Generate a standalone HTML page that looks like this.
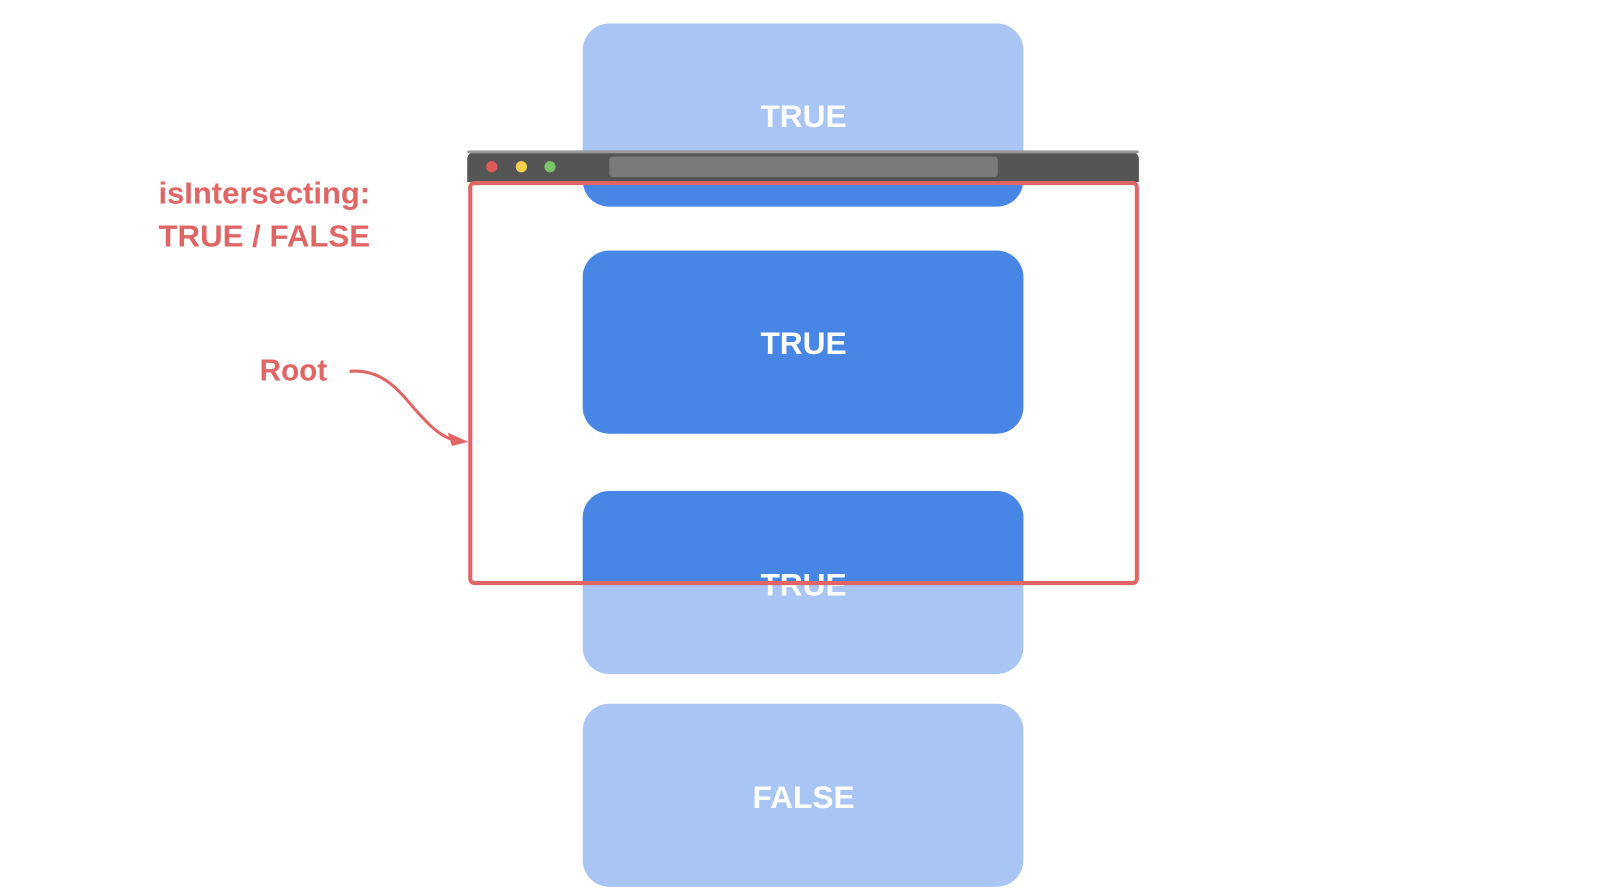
<!DOCTYPE html>
<html><head><meta charset="utf-8"><style>
html,body{margin:0;padding:0;background:#fff;}
svg{display:block;}
text{font-family:"Liberation Sans",sans-serif;font-weight:bold;}
</style></head><body>
<svg width="1600" height="895" viewBox="0 0 1565 875" preserveAspectRatio="none" xmlns="http://www.w3.org/2000/svg">
<defs>
<clipPath id="vp"><rect x="459" y="178" width="653" height="392"/></clipPath>
</defs>
<g fill="#a9c5f3">
<rect x="570" y="23" width="431" height="179" rx="26"/>
<rect x="570" y="245" width="431" height="179" rx="26"/>
<rect x="570" y="480" width="431" height="179" rx="26"/>
<rect x="570" y="688" width="431" height="179" rx="26"/>
</g>
<g fill="#4886e6" clip-path="url(#vp)">
<rect x="570" y="23" width="431" height="179" rx="26"/>
<rect x="570" y="245" width="431" height="179" rx="26"/>
<rect x="570" y="480" width="431" height="179" rx="26"/>
</g>
<g fill="#fff" font-size="31" text-anchor="middle">
<text x="786" y="124">TRUE</text>
<text x="786" y="346">TRUE</text>
<text x="786" y="582">TRUE</text>
<text x="786" y="790">FALSE</text>
</g>
<path d="M457 157 a8 8 0 0 1 8 -9 h641 a8 8 0 0 1 8 9 v21 h-657z" fill="#555"/>
<rect x="457" y="147" width="657" height="3" fill="#999" rx="2"/>
<circle cx="481" cy="163" r="5.5" fill="#e05a5a"/>
<circle cx="510" cy="163" r="5.5" fill="#f5d04a"/>
<circle cx="538" cy="163" r="5.5" fill="#7ac46a"/>
<rect x="596" y="153" width="380" height="20" rx="3" fill="#7a7a7a"/>
<rect x="460" y="179" width="652" height="391" rx="4" fill="none" stroke="#e06666" stroke-width="4"/>
<g fill="#e06666" font-size="30">
<text x="155" y="199" textLength="207" lengthAdjust="spacingAndGlyphs">isIntersecting:</text>
<text x="155" y="241" textLength="207" lengthAdjust="spacingAndGlyphs">TRUE / FALSE</text>
<text x="254" y="372" textLength="66" lengthAdjust="spacingAndGlyphs">Root</text>
</g>
<path d="M342 363 C380 360 395 390 415 410 C428 424 438 430 452 432" fill="none" stroke="#e06666" stroke-width="3"/>
<path d="M458 432 L438 423 L442 436 Z" fill="#e06666"/>
</svg>
</body></html>
